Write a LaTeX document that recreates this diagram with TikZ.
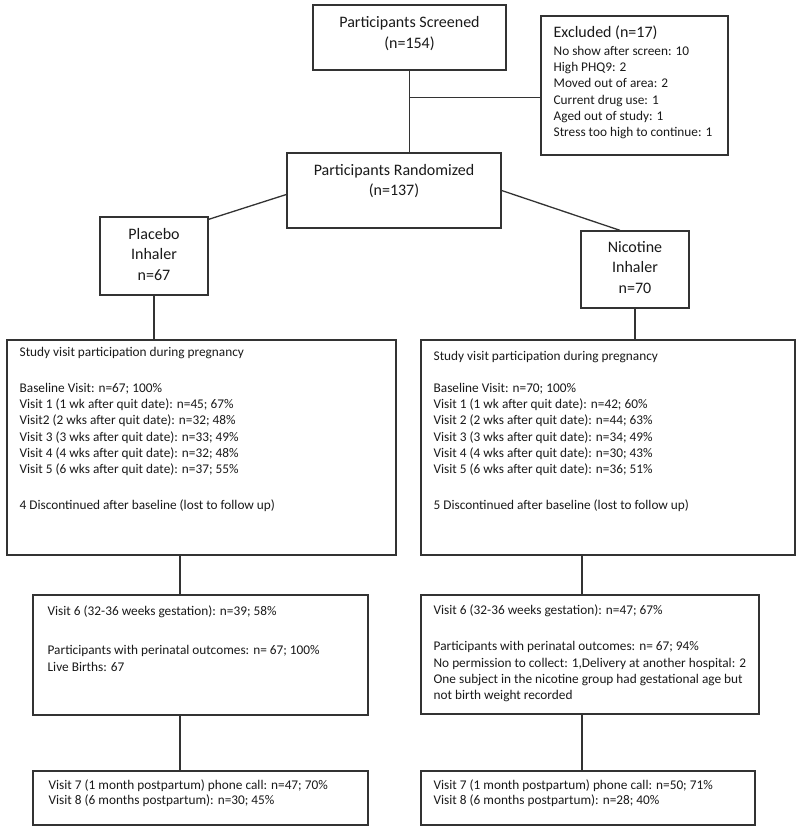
\documentclass[tikz,border=0pt]{standalone}
\usepackage{fontspec}
\setmainfont{Carlito}
\usetikzlibrary{calc}
\newcommand{\bodyfont}{\fontsize{13.3}{16.3}\selectfont}
\newcommand{\headfont}{\fontsize{16}{20.8}\selectfont}
\begin{document}
\begin{tikzpicture}[x=1pt, y=-1pt, line width=1.3pt, color=black!80,
  box/.style = {draw, rectangle, inner sep=0pt},
  txt/.style = {anchor=north west, align=left, inner sep=0pt, text=black!90, font=\bodyfont},
  head/.style = {align=center, inner sep=0pt, text=black!90, font=\headfont}]
\useasboundingbox (0,0) rectangle (800,829);

\node[box, minimum width=193pt, minimum height=65pt] (screen) at (409.5,37.5) {};
\node[box, minimum width=187pt, minimum height=139pt] (excl) at (634.5,85.5) {};
\node[box, minimum width=214pt, minimum height=75pt] (rand) at (394,190.5) {};
\node[box, minimum width=108pt, minimum height=78pt] (placebo) at (154,256) {};
\node[box, minimum width=108pt, minimum height=77pt] (nicotine) at (635,269.5) {};
\node[box, minimum width=389pt, minimum height=215pt] (study1) at (201.5,447.5) {};
\node[box, minimum width=374pt, minimum height=215pt] (study2) at (608,447.5) {};
\node[box, minimum width=335pt, minimum height=120pt] (v6a) at (200.5,655) {};
\node[box, minimum width=338pt, minimum height=119pt] (v6b) at (590,654.5) {};
\node[box, minimum width=335pt, minimum height=54pt] (v7a) at (200.5,798) {};
\node[box, minimum width=334pt, minimum height=54pt] (v7b) at (588,798) {};

\node[head] (screentxt) at (409.5,33.5) {Participants Screened\\(n=154)};
\node[head, anchor=west] (excltitle) at (553,33) {Excluded (n=17)};
\node[txt] (excltxt) at (553,45.5) {No show after screen: 10\\High PHQ9: 2\\Moved out of area: 2\\Current drug use: 1\\Aged out of study: 1\\Stress too high to continue: 1};
\node[head] (randtxt) at (394,181) {Participants Randomized\\(n=137)};
\node[head] (placebotxt) at (154,254.5) {Placebo\\Inhaler\\n=67};
\node[head] (nicotinetxt) at (635,267.5) {Nicotine\\Inhaler\\n=70};

\node[txt] (study1txt) at (19,346.5) {Study visit participation during pregnancy\\[19.7pt]
Baseline Visit: n=67; 100\%\\
Visit 1 (1 wk after quit date): n=45; 67\%\\
Visit2 (2 wks after quit date): n=32; 48\%\\
Visit 3 (3 wks after quit date): n=33; 49\%\\
Visit 4 (4 wks after quit date): n=32; 48\%\\
Visit 5 (6 wks after quit date): n=37; 55\%\\[19.7pt]
4 Discontinued after baseline (lost to follow up)};
\node[txt] (study2txt) at (433,350.5) {Study visit participation during pregnancy\\[15.7pt]
Baseline Visit: n=70; 100\%\\
Visit 1 (1 wk after quit date): n=42; 60\%\\
Visit 2 (2 wks after quit date): n=44; 63\%\\
Visit 3 (3 wks after quit date): n=34; 49\%\\
Visit 4 (4 wks after quit date): n=30; 43\%\\
Visit 5 (6 wks after quit date): n=36; 51\%\\[19.7pt]
5 Discontinued after baseline (lost to follow up)};
\node[txt] (v6atxt) at (47,605.5) {Visit 6 (32-36 weeks gestation): n=39; 58\%\\[22.7pt]
Participants with perinatal outcomes: n= 67; 100\%\\
Live Births: 67};
\node[txt] (v6btxt) at (433,604.5) {Visit 6 (32-36 weeks gestation): n=47; 67\%\\[19.7pt]
Participants with perinatal outcomes: n= 67; 94\%\\
No permission to collect: 1,Delivery at another hospital: 2\\
One subject in the nicotine group had gestational age but\\
not birth weight recorded};
\node[txt] (v7atxt) at (48,779.5) {Visit 7 (1 month postpartum) phone call: n=47; 70\%\\[-1.3pt]
Visit 8 (6 months postpartum): n=30; 45\%};
\node[txt] (v7btxt) at (433,779.5) {Visit 7 (1 month postpartum) phone call: n=50; 71\%\\[-1.3pt]
Visit 8 (6 months postpartum): n=28; 40\%};

% connectors
\coordinate (split) at ($(screen.south)!0.33!(screen.south |- rand.north)$);
\coordinate (l1) at ($(study1.south)+(-21.5,0)$);
\coordinate (r1) at ($(study2.south)+(-26,0)$);
\draw (screen.south) -- (screen.south |- rand.north);
\draw (split) -- (split -| excl.west);
\draw ([yshift=-4pt]rand.west) -- ([yshift=-3pt]placebo.north east);
\draw (rand.east) -- ([xshift=-15pt]nicotine.north);
\draw (placebo.south) -- (placebo.south |- study1.north);
\draw (nicotine.south) -- (nicotine.south |- study2.north);
\draw (l1) -- (l1 |- v6a.north);
\draw (l1 |- v6a.south) -- (l1 |- v7a.north);
\draw (r1) -- (r1 |- v6b.north);
\draw (r1 |- v6b.south) -- (r1 |- v7b.north);
\end{tikzpicture}
\end{document}
